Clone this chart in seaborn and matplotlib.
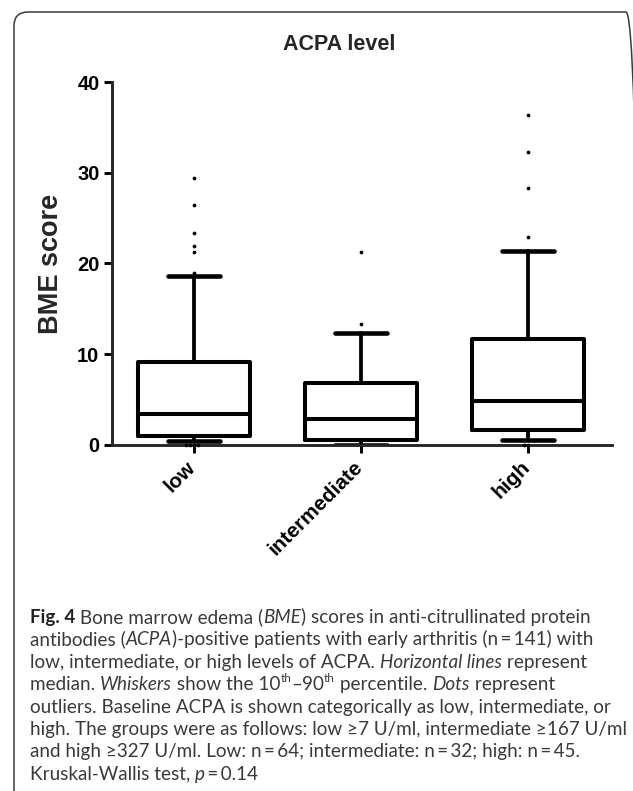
import numpy as np
import pandas as pd
import seaborn as sns
import matplotlib.pyplot as plt
from matplotlib.transforms import IdentityTransform, ScaledTranslation
from matplotlib.patches import FancyBboxPatch

# values
groups = ["low", "intermediate", "high"]
q1 = [1.0, 0.55, 1.7]
medians = [3.4, 2.9, 4.9]
q3 = [9.2, 6.8, 11.65]
p10 = [0.45, 0.0, 0.5]
p90 = [18.65, 12.3, 21.4]
out_low = [29.4, 26.4, 23.4, 21.9, 21.3, 19.0, 0, 0, 0, 0]
out_intermediate = [21.3, 13.3]
out_high = [36.4, 32.3, 28.35, 22.9, 0, 0]
yticks = [0, 10, 20, 30, 40]

W, H = 633, 791
sns.set_style("ticks")
plt.rcParams['font.family'] = ['Liberation Sans', 'DejaVu Sans']

fig = plt.figure(figsize=(W / 100, H / 100), dpi=100)
ax = fig.add_axes([112 / W, 1 - 445 / H, 500 / W, 363 / H])

outliers = pd.DataFrame({
    'group': ['low'] * len(out_low) + ['intermediate'] * len(out_intermediate) + ['high'] * len(out_high),
    'value': out_low + out_intermediate + out_high,
})
sns.swarmplot(data=outliers, x='group', y='value', order=groups, color='black',
              size=2.7, ax=ax, clip_on=False, zorder=4)

stats = [dict(med=m, q1=a, q3=b, whislo=lo, whishi=hi, fliers=[])
         for m, a, b, lo, hi in zip(medians, q1, q3, p10, p90)]
lw = 2.9
ax.bxp(stats, positions=range(len(groups)), widths=0.67, capwidths=0.31,
       showfliers=False, manage_ticks=False,
       boxprops=dict(color='black', lw=lw),
       whiskerprops=dict(color='black', lw=2.7),
       capprops=dict(color='black', lw=3.3),
       medianprops=dict(color='black', lw=lw))

ax.set_xlim(-0.49, 2.5)
ax.set_ylim(0, 40)
ax.set_yticks(yticks)
ax.set_xticks(range(len(groups)))
ax.set_xticklabels(groups, rotation=45, ha='right', rotation_mode='anchor')
ax.set_xlabel('')
ax.set_ylabel('')
sns.despine(ax=ax)
for s in ['left', 'bottom']:
    ax.spines[s].set_linewidth(2.1)
ax.tick_params(width=2.1, length=5.5, color='black', labelcolor='black')
ax.tick_params(axis='y', labelsize=14.5)
ax.tick_params(axis='x', labelsize=15)
shift = ScaledTranslation(-8 / 100, 0, fig.dpi_scale_trans)
for lab in ax.get_xticklabels():
    lab.set_fontweight('bold')
    lab.set_transform(lab.get_transform() + shift)
for lab in ax.get_yticklabels():
    lab.set_fontweight('bold')

px = IdentityTransform()
fig.text(339, H - 45, 'ACPA level', transform=px, ha='center', va='center',
         fontsize=15.5, fontweight='bold')
fig.text(51, H - 264, 'BME score', transform=px, ha='center', va='center',
         rotation=90, fontsize=19.5, fontweight='bold')

# frame round the figure panel
frame = FancyBboxPatch((14, -30), 626, H - 12 + 30, transform=px,
                       boxstyle='round,pad=0,rounding_size=14',
                       fc='none', ec='#3a3a3a', lw=1.1, clip_on=False)
fig.add_artist(frame)

# caption (thin spaces round "=")
caption = [
    [("Fig. 4", 'b'), (" Bone marrow edema (", 'n'), ("BME", 'i'),
     (") scores in anti-citrullinated protein", 'n')],
    [("antibodies (", 'n'), ("ACPA", 'i'),
     (")-positive patients with early arthritis (n\u2009=\u2009141) with", 'n')],
    [("low, intermediate, or high levels of ACPA. ", 'n'), ("Horizontal lines", 'i'),
     (" represent", 'n')],
    [("median. ", 'n'), ("Whiskers", 'i'), (" show the 10", 'n'), ("th", 's'),
     ("–90", 'n'), ("th", 's'), (" percentile. ", 'n'), ("Dots", 'i'), (" represent", 'n')],
    [("outliers. Baseline ACPA is shown categorically as low, intermediate, or", 'n')],
    [("high. The groups were as follows: low ≥7 U/ml, intermediate ≥167 U/ml", 'n')],
    [("and high ≥327 U/ml. Low: n\u2009=\u200964; intermediate: n\u2009=\u200932; "
      "high: n\u2009=\u200945.", 'n')],
    [("Kruskal-Wallis test, ", 'n'), ("p", 'i'), ("\u2009=\u20090.14", 'n')],
]
cap_fs = 13.6
cap_col = '#3a3a3a'
renderer = fig.canvas.get_renderer()
for i, segs in enumerate(caption):
    x = 30
    y = H - (623 + 22.4 * i)
    for txt, st in segs:
        kw = dict(fontsize=cap_fs, color=cap_col, family=['Lato', 'DejaVu Sans'])
        yy = y
        if st == 'b':
            kw['fontweight'] = 'bold'
            kw['color'] = '#222222'
        elif st == 'i':
            kw['style'] = 'italic'
        elif st == 's':
            kw['fontsize'] = cap_fs * 0.62
            yy = y + 8
        t = fig.text(x, yy, txt, transform=px, ha='left', va='baseline', **kw)
        x = t.get_window_extent(renderer).x1

fig.savefig('out.png', dpi=100)
